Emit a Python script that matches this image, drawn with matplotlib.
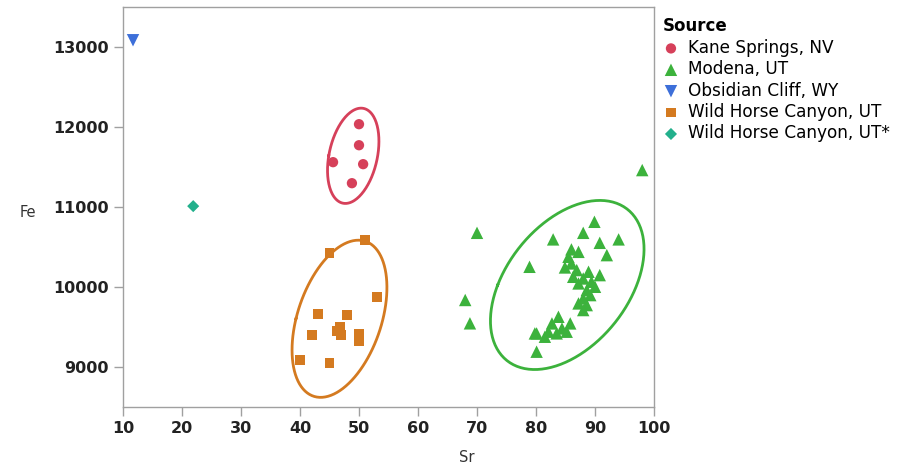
import numpy as np
import matplotlib
matplotlib.use("Agg")
import matplotlib.pyplot as plt

# Sr / Fe readings per source
kane_sr = [50.0, 50.0, 45.6, 50.7, 48.8]
kane_fe = [12034, 11771, 11559, 11534, 11296]

modena_sr = [98.0, 70.0, 68.0, 68.8, 78.9, 82.9, 89.9, 88.0, 94.0, 90.8, 92.0,
             80.1, 80.1, 86.0, 87.2, 85.5, 86.0, 84.9, 86.9, 88.9, 90.8, 86.3,
             88.0, 87.2, 89.4, 90.0, 88.6, 89.2, 88.0, 87.2, 88.6, 88.0, 83.8,
             82.7, 85.8, 84.4, 82.1, 83.5, 85.2, 79.8, 81.5]
modena_fe = [11460, 10675, 9835, 9543, 10250, 10593, 10813, 10675, 10593, 10550, 10396,
             9417, 9188, 10468, 10437, 10375, 10292, 10242, 10209, 10188, 10146, 10125,
             10104, 10042, 10063, 10000, 9959, 9896, 9855, 9792, 9771, 9709, 9625,
             9542, 9542, 9479, 9438, 9417, 9438, 9417, 9375]

obsidian_sr = [11.7]
obsidian_fe = [13084]

whc_sr = [45.0, 51.0, 53.0, 43.0, 48.0, 42.0, 46.2, 46.8, 47.0, 50.0, 50.0, 40.0, 45.0]
whc_fe = [10420, 10585, 9875, 9660, 9645, 9400, 9450, 9500, 9400, 9410, 9320, 9085, 9050]

whc2_sr = [21.9]
whc2_fe = [11009]

names = ["Kane Springs, NV", "Modena, UT", "Obsidian Cliff, WY",
         "Wild Horse Canyon, UT", "Wild Horse Canyon, UT*"]
colors = ["#d6405a", "#3cb23c", "#3d6fd9", "#d47a20", "#23b08c"]
markers = ["o", "^", "v", "s", "D"]
sizes = [55, 80, 80, 50, 38]

# 90% density ellipse (chi2, 2 dof)
R90 = np.sqrt(4.605)


def density_ellipse(ax, x, y, col):
    x = np.asarray(x); y = np.asarray(y)
    vals, vecs = np.linalg.eigh(np.cov(x, y))
    t = np.linspace(0, 2*np.pi, 200)
    circ = np.vstack([np.cos(t), np.sin(t)]) * R90
    pts = vecs @ (np.sqrt(vals)[:, None] * circ)
    ax.plot(x.mean() + pts[0], y.mean() + pts[1], color=col, lw=2, zorder=2)


fig = plt.figure(figsize=(9.09, 4.67), dpi=100)
ax = fig.add_axes([0.1353, 0.1291, 0.5842, 0.8559])

groups = [(kane_sr, kane_fe), (modena_sr, modena_fe), (obsidian_sr, obsidian_fe),
          (whc_sr, whc_fe), (whc2_sr, whc2_fe)]
for i, (xs, ys) in enumerate(groups):
    ax.scatter(xs, ys, s=sizes[i], marker=markers[i], color=colors[i],
               edgecolors="none", label=names[i], zorder=3)
    if len(xs) > 2:
        density_ellipse(ax, xs, ys, colors[i])

ax.set_xlim(10, 100)
ax.set_ylim(8500, 13500)
ax.set_xticks(range(10, 101, 10))
ax.set_yticks([9000, 10000, 11000, 12000, 13000])
for lab in ax.get_xticklabels() + ax.get_yticklabels():
    lab.set_fontweight("bold")
    lab.set_fontsize(11.5)
    lab.set_color("#222222")
ax.tick_params(direction="out", length=6.5, width=1, color="#a0a0a0", pad=3.5)
for s in ax.spines.values():
    s.set_color("#a0a0a0")
    s.set_linewidth(1)

ax.set_xlabel("Sr", fontsize=10.5, color="#333333")
ax.xaxis.set_label_coords(0.648, -0.108)
ax.set_ylabel("Fe", fontsize=10.5, color="#333333", rotation=0, ha="center", va="center")
ax.yaxis.set_label_coords(-0.179, 0.487)

leg = ax.legend(loc="upper left", bbox_to_anchor=(1.0, 0.995), frameon=False,
                title="Source", alignment="left", fontsize=12.2,
                handletextpad=0.5, borderaxespad=0.3, labelspacing=0.2,
                handlelength=1.0, borderpad=0.2)
leg.get_title().set_fontweight("bold")
leg.get_title().set_fontsize(12)

fig.savefig("out.png", dpi=100)
